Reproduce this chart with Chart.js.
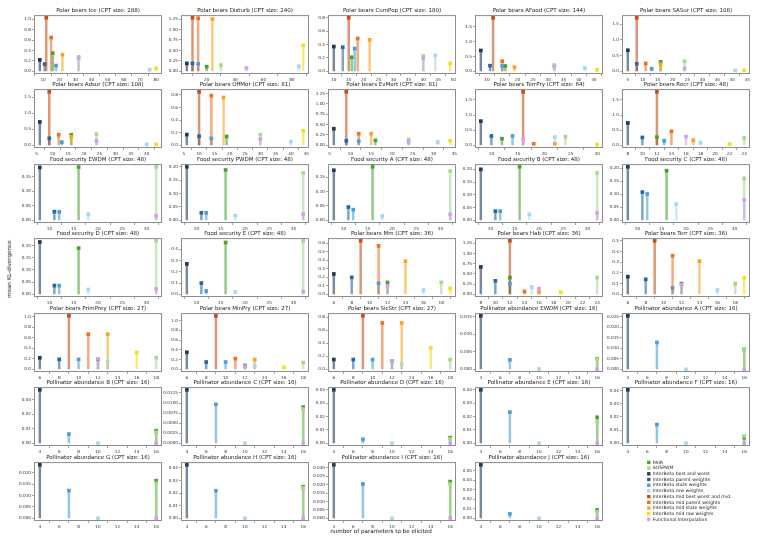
<!DOCTYPE html>
<html>
<head>
<meta charset="utf-8">
<script src="https://cdn.jsdelivr.net/npm/chart.js@4.4.0/dist/chart.umd.min.js"></script>
<style>
  body { margin: 0; background: #fff; }
  #fig { position: relative; width: 762px; height: 538px; overflow: hidden; font-family: "DejaVu Sans", sans-serif; }
  #fig canvas { position: absolute; }
  .lbl { position: absolute; font-size: 5.6px; color: #111; white-space: nowrap; z-index: 5; }
  #ylab { left: 9px; top: 269px; transform: translate(-50%, -50%) rotate(-90deg); }
  #xlab { left: 381px; top: 531px; transform: translate(-50%, -50%); }
</style>
</head>
<body>
<div id="fig">
  <div class="lbl" id="ylab">mean KL-divergence</div>
  <div class="lbl" id="xlab">number of parameters to be elicited</div>
</div>
<script>
// methods, in legend order
const methods = [
    'PAIR', 'AUSPWM',
    'InterBeta best and worst', 'InterBeta parent weights', 'InterBeta state weights', 'InterBeta row weights',
    'InterBeta mid best worst and mid', 'InterBeta mid parent weights', 'InterBeta mid state weights', 'InterBeta mid row weights',
    'Functional Interpolation'
];
const methodColors = [
    '#4ba135', '#a6d98f',
    '#1e3a5c', '#2467a6', '#4b9ed6', '#a8d5ef',
    '#c44f14', '#f26c21', '#fba41f', '#f4e01a',
    '#d59ff0'
];

const panelTitles = [
    'Polar bears Ice (CPT size: 288)', 'Polar bears Disturb (CPT size: 240)', 'Polar bears CumPop (CPT size: 180)', 'Polar bears AFood (CPT size: 144)', 'Polar bears SASur (CPT size: 108)',
    'Polar bears Adsur (CPT size: 108)', 'Polar bears OffMor (CPT size: 81)', 'Polar bears EvMort (CPT size: 81)', 'Polar bears TerrPry (CPT size: 64)', 'Polar bears Recr (CPT size: 48)',
    'Food security EWDM (CPT size: 48)', 'Food security PWDM (CPT size: 48)', 'Food security A (CPT size: 48)', 'Food security B (CPT size: 48)', 'Food security C (CPT size: 48)',
    'Food security D (CPT size: 48)', 'Food security E (CPT size: 48)', 'Polar bears Mm (CPT size: 36)', 'Polar bears Hab (CPT size: 36)', 'Polar bears Terr (CPT size: 36)',
    'Polar bears PrimPrey (CPT size: 27)', 'Polar bears MinPry (CPT size: 27)', 'Polar bears SicStr (CPT size: 27)', 'Pollinator abundance EWDM (CPT size: 16)', 'Pollinator abundance A (CPT size: 16)',
    'Pollinator abundance B (CPT size: 16)', 'Pollinator abundance C (CPT size: 16)', 'Pollinator abundance D (CPT size: 16)', 'Pollinator abundance E (CPT size: 16)', 'Pollinator abundance F (CPT size: 16)',
    'Pollinator abundance G (CPT size: 16)', 'Pollinator abundance H (CPT size: 16)', 'Pollinator abundance I (CPT size: 16)', 'Pollinator abundance J (CPT size: 16)'
];

// tick spacing of each panel
const xTickStep = [10, 20, 5, 5, 5, 5, 5, 5, 5, 2, 5, 5, 5, 5, 5, 5, 5, 2, 2, 2, 2, 2, 2, 2, 2, 2, 2, 2, 2, 2, 2, 2, 2, 2];
const yTickStep = [0.2, 0.25, 0.2, 0.5, 0.5, 0.5, 0.2, 0.25, 0.5, 0.5,
    0.05, 0.05, 0.05, 0.05, 0.05, 0.05, 0.1, 0.1, 0.25, 0.1,
    0.2, 0.2, 0.2, 0.005, 0.005, 0.01, 0.0025, 0.01, 0.01, 0.01,
    0.005, 0.01, 0.005, 0.01];

// number of parameters per method (null = method not used)
const fsParams = [16, 32, 8, 11, 12, 18, null, null, null, null, 32];
const pollParams = [16, 16, 4, null, 7, 10, null, null, null, null, 16];
const paramCounts = [
    [16, 32, 8, 11, 18, 76, 12, 15, 22, 80, 32],
    [20, 30, 6, 10, 14, 85, 10, 14, 24, 88, 48],
    [16, 40, 10, 13, 17, 44, 15, 18, 22, 49, 40],
    [16, 32, 8, 11, 15, 42, 12, 15, 19, 46, 32],
    [16, 24, 5, 8, 13, 41, 8, 11, 16, 44, 24],
    [16, 24, 6, 9, 13, 40, 9, 12, 16, 43, 24],
    [19, 30, 6, 10, 14, 40, 10, 14, 18, 44, 30],
    [16, 24, 6, 9, 12, 31, 9, 12, 15, 34, 24],
    [12, 24, 8, 10, 14, 22, 16, 18, 22, 30, 16],
    [12, 24, 8, 10, 13, 18, 12, 14, 17, 22, 16],
    fsParams, fsParams, fsParams, fsParams, fsParams,
    fsParams, fsParams,
    [12, 18, 6, 8, 11, 16, 9, 11, 14, 19, 12],
    [12, 24, 8, 10, 12, 15, 12, 14, 16, 19, 16],
    [12, 18, 6, 8, 11, 16, 9, 11, 14, 19, 12],
    [12, 18, 6, 8, 10, 13, 9, 11, 13, 16, 12],
    [12, 18, 6, 8, 10, 13, 9, 11, 13, 16, 12],
    [12, 18, 6, 8, 10, 13, 9, 11, 13, 16, 12],
    pollParams, pollParams,
    pollParams, pollParams, pollParams, pollParams, pollParams,
    pollParams, pollParams, pollParams, pollParams
];

// mean KL-divergence per method
const meanKL = [
    [0.35, 0.28, 0.22, 0.14, 0.11, 0.03, 1.03, 0.65, 0.32, 0.06, 0.25],
    [0.11, 0.15, 0.19, 0.19, 0.18, 0.12, 1.28, 1.27, 1.25, 0.62, 0.08],
    [0.21, 0.23, 0.37, 0.36, 0.34, 0.24, 0.80, 0.49, 0.47, 0.12, 0.20],
    [0.18, 0.21, 0.70, 0.19, 0.18, 0.11, 1.80, 0.34, 0.14, 0.05, 0.16],
    [0.30, 0.32, 0.67, 0.24, 0.08, 0.03, 1.70, 0.25, 0.22, 0.03, 0.09],
    [0.33, 0.35, 0.73, 0.22, 0.10, 0.03, 1.67, 0.33, 0.27, 0.03, 0.14],
    [0.14, 0.17, 0.17, 0.145, 0.11, 0.06, 0.85, 0.79, 0.76, 0.23, 0.10],
    [0.12, 0.14, 0.40, 0.11, 0.10, 0.08, 1.29, 0.28, 0.28, 0.11, 0.08],
    [0.22, 0.29, 0.80, 0.31, 0.31, 0.27, 1.77, 0.05, 0.05, 0.03, 0.20],
    [0.27, 0.25, 0.74, 0.26, 0.15, 0.09, 1.77, 0.46, 0.17, 0.04, 0.29],
    [0.184, 0.185, 0.183, 0.030, 0.029, 0.021, null, null, null, null, 0.016],
    [0.188, 0.177, 0.200, 0.028, 0.028, 0.018, null, null, null, null, 0.023],
    [0.186, 0.171, 0.174, 0.046, 0.037, 0.015, null, null, null, null, 0.021],
    [0.210, 0.186, 0.200, 0.036, 0.036, 0.024, null, null, null, null, 0.029],
    [0.190, 0.161, 0.205, 0.108, 0.101, 0.062, null, null, null, null, 0.079],
    [0.190, 0.220, 0.215, 0.036, 0.036, 0.020, null, null, null, null, 0.022],
    [0.46, 0.475, 0.27, 0.10, 0.03, 0.02, null, null, null, null, 0.025],
    [0.14, 0.14, 0.24, 0.20, 0.13, 0.05, 0.63, 0.57, 0.39, 0.07, 0.10],
    [0.41, 0.41, 0.67, 0.33, 0.26, 0.18, 1.31, 0.07, 0.05, 0.05, 0.14],
    [0.10, 0.10, 0.165, 0.14, 0.06, 0.04, 0.50, 0.36, 0.31, 0.155, 0.09],
    [0.19, 0.22, 0.22, 0.19, 0.19, 0.15, 1.02, 0.67, 0.67, 0.32, 0.20],
    [0.08, 0.14, 0.35, 0.15, 0.15, 0.07, 1.10, 0.22, 0.20, 0.04, 0.06],
    [0.13, 0.15, 0.15, 0.15, 0.15, 0.08, 0.82, 0.71, 0.71, 0.33, 0.13],
    [0.0030, 0.0029, 0.0152, null, 0.0027, 0.0001, null, null, null, null, 0],
    [0.0095, 0.0092, 0.0255, null, 0.0128, 0, null, null, null, null, 0],
    [0.0087, 0.0076, 0.037, null, 0.0064, 0, null, null, null, null, 0],
    [0.0090, 0.0085, 0.0133, null, 0.0097, 0, null, null, null, null, 0],
    [0.0043, 0.0033, 0.040, null, 0.0030, 0, null, null, null, null, 0],
    [0.0195, 0.016, 0.040, null, 0.0233, 0, null, null, null, null, 0],
    [0.0043, 0.0055, 0.0405, null, 0.0142, 0, null, null, null, null, 0],
    [0.0166, 0.0154, 0.0236, null, 0.0122, 0, null, null, null, null, 0],
    [0.025, 0.024, 0.0424, null, 0.0219, 0, null, null, null, null, 0],
    [0.0218, 0.0204, 0.0318, null, 0.0204, 0, null, null, null, null, 0],
    [0.0088, 0.0067, 0.056, null, 0.0046, 0, null, null, null, null, 0]
];

Chart.defaults.font.family = "'DejaVu Sans', sans-serif";
Chart.defaults.color = '#222';

// grid geometry of the axes boxes
const BOX_W = 128, BOX_H = 59;
const Y_AXIS_W = 25, X_AXIS_H = 9, PAD_R = 6;

function withAlpha(hex, a) {
    const n = parseInt(hex.slice(1), 16);
    return `rgba(${(n >> 16) & 255},${(n >> 8) & 255},${n & 255},${a})`;
}

function decimalsOf(step) {
    return (String(step).split('.')[1] || '').length;
}

function makeTicks(min, max, step) {
    const ticks = [];
    let v = Math.ceil(min / step - 1e-9) * step;
    while (v <= max + 1e-9) {
        ticks.push({ value: +v.toFixed(8) });
        v += step;
    }
    return ticks;
}

// frame around the axes like matplotlib spines
const framePlugin = {
    id: 'frame',
    afterDatasetsDraw(chart) {
        const opts = chart.options.plugins.frame;
        if (!opts || !opts.show) return;
        const a = chart.chartArea;
        const ctx = chart.ctx;
        ctx.save();
        ctx.strokeStyle = '#8c8c8c';
        ctx.lineWidth = 1;
        ctx.strokeRect(a.left + 0.5, a.top + 0.5, a.right - a.left - 1, a.bottom - a.top - 1);
        ctx.restore();
    }
};
Chart.register(framePlugin);

function buildPanel(p) {
    const xs = paramCounts[p], ys = meanKL[p];
    const usedX = xs.filter(v => v !== null);
    const usedY = ys.filter(v => v !== null);
    const xmin = Math.min(...usedX), xmax = Math.max(...usedX);
    const ymax = Math.max(...usedY), ymin = 0;
    const xr = xmax - xmin, yr = ymax - ymin;
    const xLo = xmin - 0.05 * xr, xHi = xmax + 0.05 * xr;
    const yLo = ymin - 0.05 * yr, yHi = ymax + 0.05 * yr;
    const xDec = decimalsOf(xTickStep[p]), yDec = decimalsOf(yTickStep[p]);

    const datasets = [];
    methods.forEach((m, i) => {
        if (xs[i] === null || ys[i] === null) return;
        const pt = [{ x: xs[i], y: ys[i] }];
        datasets.push({
            type: 'bar', label: m, data: pt,
            backgroundColor: withAlpha(methodColors[i], 0.6),
            barThickness: 1.8, grouped: false, order: 100 - i
        });
        datasets.push({
            type: 'scatter', label: m, data: pt,
            pointStyle: 'rect', pointRadius: 2.6, pointHoverRadius: 2.6,
            backgroundColor: methodColors[i], borderWidth: 0, order: 20 - i
        });
    });

    const tickFont = { size: 4.2 };
    return {
        type: 'scatter',
        data: { datasets },
        options: {
            responsive: false,
            maintainAspectRatio: false,
            animation: false,
            devicePixelRatio: 1,
            events: [],
            layout: { padding: { left: 0, right: PAD_R, top: 0, bottom: 0 } },
            plugins: {
                legend: { display: false },
                tooltip: { enabled: false },
                frame: { show: true },
                title: {
                    display: true,
                    text: panelTitles[p],
                    fullSize: false,
                    font: { size: 5.5, weight: 'normal' },
                    color: '#222',
                    padding: { top: 0, bottom: 1.5 }
                }
            },
            scales: {
                x: {
                    type: 'linear', min: xLo, max: xHi, offset: false,
                    border: { display: false },
                    grid: { drawOnChartArea: false, drawTicks: true, tickLength: 2, color: '#8c8c8c', lineWidth: 0.8 },
                    ticks: {
                        font: tickFont, color: '#333', padding: 1, maxRotation: 0, autoSkip: false,
                        callback: v => v.toFixed(xDec)
                    },
                    afterBuildTicks: s => { s.ticks = makeTicks(xLo, xHi, xTickStep[p]); },
                    afterFit: s => { s.height = X_AXIS_H; s.paddingLeft = 0; s.paddingRight = 0; }
                },
                y: {
                    type: 'linear', min: yLo, max: yHi,
                    border: { display: false },
                    grid: { drawOnChartArea: false, drawTicks: true, tickLength: 2, color: '#8c8c8c', lineWidth: 0.8 },
                    ticks: {
                        font: tickFont, color: '#333', padding: 1, autoSkip: false,
                        callback: v => v.toFixed(yDec)
                    },
                    afterBuildTicks: s => { s.ticks = makeTicks(yLo, yHi, yTickStep[p]); },
                    afterFit: s => { s.width = Y_AXIS_W; s.paddingTop = 0; s.paddingBottom = 0; }
                }
            }
        }
    };
}

const fig = document.getElementById('fig');

function placeChart(config, boxLeft, boxTop, boxW, boxH, w, h) {
    const canvas = document.createElement('canvas');
    canvas.width = w; canvas.height = h;
    canvas.style.width = w + 'px'; canvas.style.height = h + 'px';
    fig.appendChild(canvas);
    const chart = new Chart(canvas, config);
    const a = chart.chartArea;
    const dw = boxW - (a.right - a.left), dh = boxH - (a.bottom - a.top);
    if (Math.abs(dw) > 0.5 || Math.abs(dh) > 0.5) {
        // resize once so the axes box has the wanted size
        chart.destroy();
        canvas.remove();
        return placeChart(config, boxLeft, boxTop, boxW, boxH, Math.round(w + dw), Math.round(h + dh));
    }
    canvas.style.left = (boxLeft - a.left) + 'px';
    canvas.style.top = (boxTop - a.top) + 'px';
    return chart;
}

panelTitles.forEach((t, p) => {
    const r = Math.floor(p / 5), c = p % 5;
    const boxLeft = 34 + 147 * c;
    const boxTop = 15 + 74.5 * r;
    placeChart(buildPanel(p), boxLeft, boxTop, BOX_W, BOX_H,
        Y_AXIS_W + BOX_W + PAD_R, 9 + BOX_H + X_AXIS_H);
});

// legend in the empty last slot (canvas runs past the figure edge so the
// legend box may take the width it needs)
const legendCanvas = document.createElement('canvas');
legendCanvas.width = 260; legendCanvas.height = 72;
legendCanvas.style.left = '646px'; legendCanvas.style.top = '459px';
fig.appendChild(legendCanvas);
new Chart(legendCanvas, {
    type: 'scatter',
    data: {
        datasets: methods.map((m, i) => ({
            label: m, data: [], pointStyle: 'rect',
            backgroundColor: methodColors[i], borderColor: methodColors[i], borderWidth: 0
        }))
    },
    options: {
        responsive: false, animation: false, devicePixelRatio: 1, events: [],
        layout: { padding: 0 },
        scales: { x: { display: false }, y: { display: false } },
        plugins: {
            tooltip: { enabled: false },
            legend: {
                display: true, position: 'left', align: 'start',
                labels: {
                    usePointStyle: true, pointStyle: 'rect',
                    boxWidth: 3.4, boxHeight: 3.4,
                    font: { size: 4.6 }, color: '#222', padding: 1.1
                }
            }
        }
    }
});
</script>
</body>
</html>
